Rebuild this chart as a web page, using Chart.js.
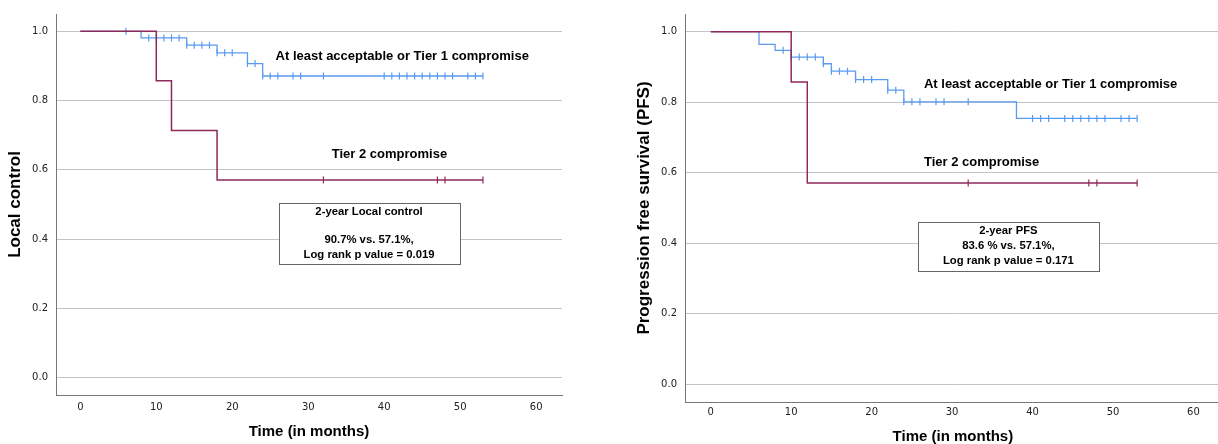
<!DOCTYPE html>
<html><head><meta charset="utf-8">
<script src="https://cdn.jsdelivr.net/npm/chart.js@4.4.1/dist/chart.umd.min.js"></script>
<style>
html,body{margin:0;padding:0;background:#fff;overflow:hidden;}
#wrap{position:relative;width:1218px;height:444px;overflow:hidden;}
#c1{position:absolute;left:0;top:0;}
#c2{position:absolute;left:620px;top:0;}
</style></head><body>
<div id="wrap">
<canvas id="c1" width="570" height="444"></canvas>
<canvas id="c2" width="606" height="444"></canvas>
</div>
<script>
// ---------- tick labels ----------
const xTickValues = [0, 10, 20, 30, 40, 50, 60];
const yTickValues = [0.0, 0.2, 0.4, 0.6, 0.8, 1.0];

// ---------- Left panel: Local control ----------
const lcTier1Times = [0, 8, 14, 18, 22, 24, 53];
const lcTier1Surv  = [1.0, 0.981, 0.960, 0.938, 0.907, 0.871, 0.871];
const lcTier1CensorTimes = [6, 9, 10, 11, 12, 13, 14, 15, 16, 17, 18, 19, 20, 22, 23,
  24, 25, 26, 28, 29, 32, 40, 41, 42, 43, 44, 45, 46, 47, 48, 49, 51, 52, 53];
const lcTier1CensorSurv  = [1.0, 0.981, 0.981, 0.981, 0.981, 0.981, 0.960, 0.960, 0.960, 0.960,
  0.938, 0.938, 0.938, 0.907, 0.907,
  0.871, 0.871, 0.871, 0.871, 0.871, 0.871, 0.871, 0.871, 0.871, 0.871, 0.871, 0.871, 0.871,
  0.871, 0.871, 0.871, 0.871, 0.871, 0.871];
const lcTier2Times = [0, 10, 12, 18, 53];
const lcTier2Surv  = [1.0, 0.857, 0.714, 0.571, 0.571];
const lcTier2CensorTimes = [32, 47, 48, 53];
const lcTier2CensorSurv  = [0.571, 0.571, 0.571, 0.571];

// ---------- Right panel: PFS ----------
const pfsTier1Times = [0, 6, 8, 10, 14, 15, 18, 22, 24, 38, 53];
const pfsTier1Surv  = [1.0, 0.964, 0.947, 0.928, 0.909, 0.888, 0.864, 0.834, 0.801, 0.754, 0.754];
const pfsTier1CensorTimes = [9, 10, 11, 12, 13, 14, 15, 16, 17, 18, 19, 20, 22, 23,
  24, 25, 26, 28, 29, 32, 40, 41, 42, 44, 45, 46, 47, 48, 49, 51, 52, 53];
const pfsTier1CensorSurv  = [0.947, 0.928, 0.928, 0.928, 0.928, 0.909, 0.888, 0.888, 0.888,
  0.864, 0.864, 0.864, 0.834, 0.834,
  0.801, 0.801, 0.801, 0.801, 0.801, 0.801,
  0.754, 0.754, 0.754, 0.754, 0.754, 0.754, 0.754, 0.754, 0.754, 0.754, 0.754, 0.754];
const pfsTier2Times = [0, 10, 12, 53];
const pfsTier2Surv  = [1.0, 0.857, 0.571, 0.571];
const pfsTier2CensorTimes = [32, 47, 48, 53];
const pfsTier2CensorSurv  = [0.571, 0.571, 0.571, 0.571];

const BLUE = '#5a9bef';
const PURPLE = '#8e2a5b';
const toPts = (xs, ys) => xs.map((v, i) => ({x: v, y: ys[i]}));

const annotPlugin = {
  id: 'annot',
  afterDatasetsDraw(chart, args, opts) {
    const {ctx} = chart;
    const sx = chart.scales.x, sy = chart.scales.y;
    ctx.save();
    (opts.boxes || []).forEach(b => {
      const l = Math.round(sx.getPixelForValue(b.x0)) + 0.5;
      const r = Math.round(sx.getPixelForValue(b.x1)) + 0.5;
      const t = Math.round(sy.getPixelForValue(b.y0)) + 0.5;
      const bt = Math.round(sy.getPixelForValue(b.y1)) + 0.5;
      ctx.fillStyle = '#fff';
      ctx.fillRect(l, t, r - l, bt - t);
      ctx.strokeStyle = '#666';
      ctx.lineWidth = 1;
      ctx.strokeRect(l, t, r - l, bt - t);
    });
    (opts.labels || []).forEach(lb => {
      ctx.font = lb.font;
      ctx.fillStyle = '#000';
      ctx.textAlign = lb.align;
      ctx.textBaseline = 'middle';
      ctx.fillText(lb.text, sx.getPixelForValue(lb.x), sy.getPixelForValue(lb.y));
    });
    ctx.restore();
  }
};

function makeChart(id, cfg) {
  const stepDs = (pts, color, w) => ({
    data: pts, showLine: true, stepped: true, borderColor: color, borderWidth: w,
    pointRadius: 0, fill: false
  });
  const censDs = (pts, color) => ({
    data: pts, showLine: false, pointStyle: 'line', rotation: 90, pointRadius: 3.5,
    borderColor: color, backgroundColor: color, pointBorderWidth: 1.2
  });
  return new Chart(document.getElementById(id), {
    type: 'scatter',
    data: {
      datasets: [
        stepDs(cfg.t2, PURPLE, 1.5), censDs(cfg.t2c, PURPLE),
        stepDs(cfg.t1, BLUE, 1.3), censDs(cfg.t1c, BLUE)
      ]
    },
    options: {
      responsive: false, animation: false, devicePixelRatio: 1,
      layout: {padding: {left: 0, right: cfg.padRight, top: cfg.padTop, bottom: 0}},
      plugins: {
        legend: {display: false}, tooltip: {enabled: false},
        annot: cfg.annot
      },
      scales: {
        x: {
          type: 'linear', min: -3.2, max: 63.4,
          afterBuildTicks: s => { s.ticks = xTickValues.map(v => ({value: v})); },
          afterFit: s => { s.height = cfg.xHeight; },
          grid: {display: false, drawTicks: false},
          border: {display: true, color: '#777', width: 1},
          ticks: {font: {family: 'DejaVu Sans', size: 10}, color: '#222', padding: cfg.xTickPad,
                  maxRotation: 0, autoSkip: false},
          title: {display: true, text: 'Time (in months)', color: '#000',
                  font: {family: "'Liberation Sans', Arial", size: 15, weight: 'bold', lineHeight: 1},
                  padding: {top: 0, bottom: cfg.xTitlePad}}
        },
        y: {
          type: 'linear', min: -0.05, max: 1.05,
          afterBuildTicks: s => { s.ticks = yTickValues.map(v => ({value: v})); },
          afterFit: s => { s.width = cfg.yWidth; },
          grid: {display: true, color: '#c4c4c4', lineWidth: 1, drawTicks: false},
          border: {display: true, color: '#777', width: 1},
          ticks: {font: {family: 'DejaVu Sans', size: 10}, color: '#222', padding: 8,
                  callback: v => Number(v).toFixed(1)},
          title: {display: true, text: cfg.yTitle, color: '#000',
                  font: {family: "'Liberation Sans', Arial", size: 17, weight: 'bold', lineHeight: 1},
                  padding: {top: cfg.yTitlePad, bottom: 0}}
        }
      }
    },
    plugins: [annotPlugin]
  });
}

const boldA = "bold 13px 'Liberation Sans', Arial";
const boldB = "bold 11.3px 'Liberation Sans', Arial";

makeChart('c1', {
  t1: toPts(lcTier1Times, lcTier1Surv), t1c: toPts(lcTier1CensorTimes, lcTier1CensorSurv),
  t2: toPts(lcTier2Times, lcTier2Surv), t2c: toPts(lcTier2CensorTimes, lcTier2CensorSurv),
  padRight: 8, padTop: 12, xHeight: 49, yWidth: 56, xTickPad: 6, xTitlePad: 5, yTitlePad: 7,
  yTitle: 'Local control',
  annot: {
    boxes: [{x0: 26.1, x1: 50.0, y0: 0.505, y1: 0.328}],
    labels: [
      {text: 'At least acceptable or Tier 1 compromise', x: 25.7, y: 0.928, align: 'left', font: boldA},
      {text: 'Tier 2 compromise', x: 33.1, y: 0.644, align: 'left', font: boldA},
      {text: '2-year Local control', x: 38.0, y: 0.478, align: 'center', font: boldB},
      {text: '90.7% vs. 57.1%,', x: 38.0, y: 0.399, align: 'center', font: boldB},
      {text: 'Log rank p value = 0.019', x: 38.0, y: 0.355, align: 'center', font: boldB}
    ]
  }
});

makeChart('c2', {
  t1: toPts(pfsTier1Times, pfsTier1Surv), t1c: toPts(pfsTier1CensorTimes, pfsTier1CensorSurv),
  t2: toPts(pfsTier2Times, pfsTier2Surv), t2c: toPts(pfsTier2CensorTimes, pfsTier2CensorSurv),
  padRight: 0, padTop: 14, xHeight: 42, yWidth: 65, xTickPad: 4, xTitlePad: -0.5, yTitlePad: 16,
  yTitle: 'Progression free survival (PFS)',
  annot: {
    boxes: [{x0: 25.8, x1: 48.3, y0: 0.459, y1: 0.321}],
    labels: [
      {text: 'At least acceptable or Tier 1 compromise', x: 26.5, y: 0.849, align: 'left', font: boldA},
      {text: 'Tier 2 compromise', x: 26.5, y: 0.629, align: 'left', font: boldA},
      {text: '2-year PFS', x: 37.0, y: 0.436, align: 'center', font: boldB},
      {text: '83.6 % vs. 57.1%,', x: 37.0, y: 0.393, align: 'center', font: boldB},
      {text: 'Log rank p value = 0.171', x: 37.0, y: 0.350, align: 'center', font: boldB}
    ]
  }
});
</script>
</body></html>
